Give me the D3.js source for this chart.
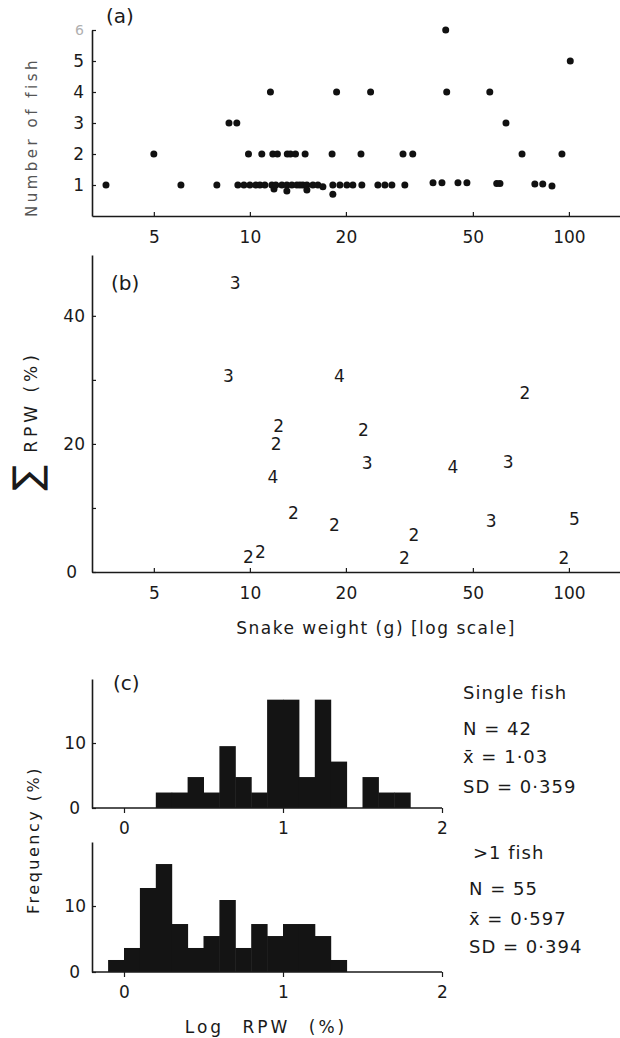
<!DOCTYPE html>
<meta charset="utf-8">
<head>
    <script type="text/javascript" src="https://cdn.jsdelivr.net/npm/d3@7"></script>
    <style>
        body { margin: 0; background: #fff; }
        svg { display: block; }
        text { font-family: "DejaVu Sans", sans-serif; fill: #1a1a1a; }
        .domain { stroke: #1a1a1a; stroke-width: 1.6px; }
        .tick line { stroke: #1a1a1a; stroke-width: 1.2px; }
    </style>
</head>
<body>
<div id="chart"></div>
<script>

    // panel (a): one dot per snake, weight (g) vs number of fish eaten
    let dotWeights = [3.54, 6.08, 7.88, 9.17, 9.58, 10.0, 10.44, 10.75, 11.14, 11.72, 11.9, 12.06, 12.6, 13.06, 13.06,
        13.54, 14.04, 14.35, 14.66, 15.09, 15.09, 15.76, 16.34, 16.94, 18.2, 18.2, 19.15, 20.14, 21.03, 22.44,
        25.19, 26.5, 27.87, 30.6, 37.5, 40.0, 44.9, 47.9, 59.4, 60.8, 78.2, 82.8, 88.5,
        5.0, 9.9, 10.9, 11.8, 12.2, 13.1, 13.4, 13.9, 14.9, 18.1, 22.3, 30.2, 32.4, 71.3, 95.1,
        8.6, 9.1, 63.5,
        11.6, 18.7, 23.9, 41.4, 56.5,
        101,
        41.1]
    let dotFish = [1, 1, 1, 1, 1, 1, 1, 1, 1, 1, 0.87, 1, 1, 1, 0.81,
        1, 1, 1, 1, 1, 0.84, 1, 1, 0.94, 1, 0.7, 1, 1, 1, 1,
        1, 1, 1, 1, 1.07, 1.07, 1.07, 1.07, 1.05, 1.05, 1.03, 1.03, 0.97,
        2, 2, 2, 2, 2, 2, 2, 2, 2, 2, 2, 2, 2, 2, 2,
        3, 3, 3,
        4, 4, 4, 4, 4,
        5,
        6]
    let fishTicks = [1, 2, 3, 4, 5, 6]
    let weightTicks = [5, 10, 20, 50, 100]

    // panel (b): summed RPW (%) for meals of more than one fish, label = number of fish
    let rpwWeights = [9.0, 8.57, 19.1, 72.8, 12.3, 22.7, 12.1, 23.3, 64.5, 43.3, 11.8, 13.7, 18.4, 57.1, 104, 32.7, 9.9, 10.8, 30.5, 96.4]
    let rpwValues = [45.2, 30.6, 30.6, 27.9, 22.8, 22.1, 20.0, 17.0, 17.2, 16.4, 14.8, 9.2, 7.3, 7.9, 8.3, 5.7, 2.4, 3.1, 2.2, 2.2]
    let rpwLabels = ['3', '3', '4', '2', '2', '2', '2', '3', '3', '4', '4', '2', '2', '3', '5', '2', '2', '2', '2', '2']
    let rpwTicks = [0, 10, 20, 30, 40]
    let rpwTickLabels = [0, 20, 40]

    // panel (c): frequency (%) of log RPW, bins 0.1 wide
    let binWidth = 0.1
    let singleBinStarts = [0.2, 0.3, 0.4, 0.5, 0.6, 0.7, 0.8, 0.9, 1.0, 1.1, 1.2, 1.3, 1.4, 1.5, 1.6, 1.7]
    let singleFreq = [2.38, 2.38, 4.76, 2.38, 9.52, 4.76, 2.38, 16.67, 16.67, 4.76, 16.67, 7.14, 0, 4.76, 2.38, 2.38]
    let multiBinStarts = [-0.1, 0.0, 0.1, 0.2, 0.3, 0.4, 0.5, 0.6, 0.7, 0.8, 0.9, 1.0, 1.1, 1.2, 1.3]
    let multiFreq = [1.82, 3.64, 12.73, 16.36, 7.27, 3.64, 5.45, 10.91, 3.64, 7.27, 5.45, 7.27, 7.27, 5.45, 1.82]
    let logTicks = [0, 1, 2]
    let freqTicks = [0, 10]

    let singleStats = ['Single fish', 'N = 42', 'x\u0304 = 1\u00b703', 'SD = 0\u00b7359']
    let multiStats = ['>1 fish', 'N = 55', 'x\u0304 = 0\u00b7597', 'SD = 0\u00b7394']

    let svg = d3.select("#chart")
        .append("svg")
        .attr("width", 620)
        .attr("height", 1038)

    // shared log x scale for (a) and (b)
    let x = d3.scaleLog()
        .domain([3.2, 144.6])
        .range([92, 620])

    // ---------- panel (a) ----------
    let yA = d3.scaleLinear().domain([0, 6]).range([216, 30])

    let axA = svg.append("g")
        .attr("transform", "translate(0,216)")
        .call(d3.axisBottom(x).tickValues(weightTicks).tickFormat(d3.format("d"))
            .tickSizeInner(-4).tickSizeOuter(0).tickPadding(15))
    axA.selectAll("text").style("font-size", "17px")

    let ayA = svg.append("g")
        .attr("transform", "translate(92,0)")
        .call(d3.axisLeft(yA).tickValues(fishTicks).tickFormat(d3.format("d"))
            .tickSizeInner(-4).tickSizeOuter(0).tickPadding(8))
    ayA.selectAll("text")
        .style("fill", function (d) { return d === 6 ? "#b0b0b0" : "#1a1a1a" })
        .style("font-size", function (d) { return d === 6 ? "14px" : "17px" })

    svg.append("g")
        .selectAll("circle")
        .data(dotWeights)
        .enter()
        .append("circle")
        .attr("cx", function (d) { return x(d) })
        .attr("cy", function (d, i) { return yA(dotFish[i]) })
        .attr("r", 3.5)
        .attr("fill", "#111")

    svg.append("text")
        .attr("x", 106)
        .attr("y", 23)
        .style("font-size", "20px")
        .text("(a)")

    svg.append("text")
        .attr("transform", "translate(37,137) rotate(-90)")
        .attr("text-anchor", "middle")
        .style("font-size", "15px")
        .style("letter-spacing", "3.5px")
        .style("fill", "#555")
        .text("Number of fish")

    // ---------- panel (b) ----------
    let yB = d3.scaleLinear().domain([0, 49.5]).range([572, 255])

    let axB = svg.append("g")
        .attr("transform", "translate(0,572)")
        .call(d3.axisBottom(x).tickValues(weightTicks).tickFormat(d3.format("d"))
            .tickSizeInner(-4).tickSizeOuter(0).tickPadding(15))
    axB.selectAll("text").style("font-size", "17px")

    let ayB = svg.append("g")
        .attr("transform", "translate(92,0)")
        .call(d3.axisLeft(yB).tickValues(rpwTicks)
            .tickFormat(function (d) { return rpwTickLabels.indexOf(d) >= 0 ? d : "" })
            .tickSizeInner(-4).tickSizeOuter(0).tickPadding(7))
    ayB.selectAll("text").style("font-size", "17px")
        .attr("dx", function (d) { return d === 0 ? -8 : 0 })

    svg.append("g")
        .selectAll("text")
        .data(rpwLabels)
        .enter()
        .append("text")
        .attr("x", function (d, i) { return x(rpwWeights[i]) })
        .attr("y", function (d, i) { return yB(rpwValues[i]) })
        .attr("text-anchor", "middle")
        .attr("dominant-baseline", "central")
        .style("font-size", "17px")
        .text(function (d) { return d })

    svg.append("text")
        .attr("x", 111)
        .attr("y", 290)
        .style("font-size", "20px")
        .text("(b)")

    // y label of (b): big sigma then RPW (%), read bottom to top
    svg.append("text")
        .attr("transform", "translate(40,478) rotate(-90)")
        .attr("text-anchor", "middle")
        .style("font-size", "38px")
        .text("\u2211")

    svg.append("text")
        .attr("transform", "translate(37,402) rotate(-90)")
        .attr("text-anchor", "middle")
        .style("font-size", "17px")
        .style("letter-spacing", "4px")
        .text("RPW (%)")

    svg.append("text")
        .attr("x", 376)
        .attr("y", 634)
        .attr("text-anchor", "middle")
        .style("font-size", "17px")
        .style("letter-spacing", "1.5px")
        .text("Snake weight (g) [log scale]")

    // ---------- panel (c) ----------
    let xC = d3.scaleLinear().domain([0, 2]).range([124, 442])

    function histogram(starts, freq, base, top, yMax) {
        let y = d3.scaleLinear().domain([0, yMax]).range([base, top])

        svg.append("g")
            .selectAll("rect")
            .data(starts)
            .enter()
            .append("rect")
            .attr("x", function (d) { return xC(d) })
            .attr("width", function (d) { return xC(d + binWidth) - xC(d) + 0.5 })
            .attr("y", function (d, i) { return y(freq[i]) })
            .attr("height", function (d, i) { return base - y(freq[i]) })
            .attr("fill", "#141414")

        // x axis line runs from the y axis to 2
        svg.append("line")
            .attr("x1", 92).attr("x2", xC(2))
            .attr("y1", base).attr("y2", base)
            .attr("stroke", "#1a1a1a").attr("stroke-width", 1.6)

        let ax = svg.append("g")
            .attr("transform", "translate(0," + base + ")")
            .call(d3.axisBottom(xC).tickValues(logTicks).tickFormat(d3.format("d"))
                .tickSizeInner(5).tickSizeOuter(0).tickPadding(9))
        ax.select(".domain").remove()
        ax.selectAll("text").style("font-size", "17px")

        let ay = svg.append("g")
            .attr("transform", "translate(92,0)")
            .call(d3.axisLeft(y).tickValues(freqTicks).tickSizeInner(-4).tickSizeOuter(0).tickPadding(6))
        ay.selectAll("text").style("font-size", "17px")
            .attr("dx", function (d) { return d === 0 ? -6 : 0 })
    }

    histogram(singleBinStarts, singleFreq, 808, 679, 19.85)
    histogram(multiBinStarts, multiFreq, 972, 842, 19.7)

    svg.append("text")
        .attr("x", 113)
        .attr("y", 690)
        .style("font-size", "20px")
        .text("(c)")

    svg.append("text")
        .attr("transform", "translate(39,840) rotate(-90)")
        .attr("text-anchor", "middle")
        .style("font-size", "16px")
        .style("letter-spacing", "2.5px")
        .text("Frequency (%)")

    svg.append("text")
        .attr("x", 266)
        .attr("y", 1033)
        .attr("text-anchor", "middle")
        .style("font-size", "17px")
        .style("letter-spacing", "3px")
        .style("word-spacing", "10px")
        .text("Log RPW (%)")

    let statY1 = [699, 735, 763, 793]
    let statY2 = [859, 895, 925, 953]

    svg.append("g")
        .selectAll("text")
        .data(singleStats)
        .enter()
        .append("text")
        .attr("x", 463)
        .attr("y", function (d, i) { return statY1[i] })
        .style("font-size", "18px")
        .style("letter-spacing", "1px")
        .text(function (d) { return d })

    svg.append("g")
        .selectAll("text")
        .data(multiStats)
        .enter()
        .append("text")
        .attr("x", function (d, i) { return i === 0 ? 473 : 469 })
        .attr("y", function (d, i) { return statY2[i] })
        .style("font-size", "18px")
        .style("letter-spacing", "1px")
        .text(function (d) { return d })

</script>
</body>
</html>
